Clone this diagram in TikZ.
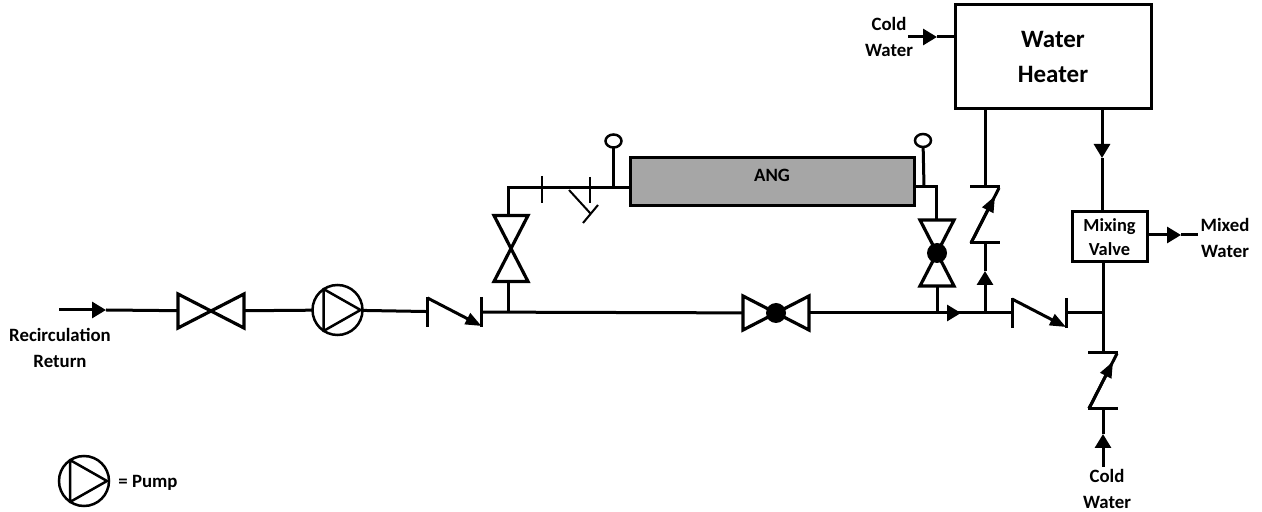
\documentclass[tikz,border=0pt]{standalone}
\usepackage{fontspec}
\setmainfont{Carlito}
\usetikzlibrary{arrows.meta,positioning,shapes.geometric}
\tikzset{
  pipe/.style={line width=1.5pt},
  flow/.style={pipe,-{Triangle[length=7pt,width=8pt]}},
  thinpipe/.style={line width=1pt},
  lbl/.style={font=\bfseries\fontsize{9.4}{13}\selectfont,align=center,inner sep=0},
  box/.style={draw,line width=1.5pt,inner sep=0,outer sep=0,align=center,font=\bfseries},
  gatebox/.style={inner sep=0,outer sep=0,minimum width=34pt,minimum height=17pt},
  checkh/.style={inner sep=0,outer sep=0,minimum width=27.5pt,minimum height=15pt},
  checkv/.style={inner sep=0,outer sep=0,minimum width=15pt,minimum height=28pt},
  pumpnode/.style={draw,circle,line width=1.25pt,inner sep=0,outer sep=0,minimum size=25pt},
  gauge/.style={draw,ellipse,line width=1.25pt,inner sep=0,outer sep=0,minimum width=8pt,minimum height=6.5pt},
  pics/bowtie/.style={code={
    \draw[line width=1.6pt,line join=miter] (-33,-17) -- (33,17) -- (33,-17) -- (-33,17) -- cycle;
  }},
  pics/ballvalve/.style={code={
    \draw[line width=1.6pt,line join=miter] (-33,-17) -- (33,17) -- (33,-17) -- (-33,17) -- cycle;
    \fill (0,0) circle (10);
  }},
  pics/pumpsign/.style={code={
    \draw[line width=1.25pt,line join=round] (-14,-21) -- (-14,21) -- (23,0) -- cycle;
  }},
  pics/checkhsign/.style={code={
    \draw[line width=1.5pt] (-27,-15) -- (-27,15);
    \draw[line width=1.5pt] (27,-15) -- (27,15);
    \draw[line width=1.5pt,-{Triangle[length=8pt,width=6pt]}] (-27,-14) -- (27,14);
  }},
  pics/checkvsign/.style={code={
    \draw[line width=1.5pt] (-15,-28) -- (15,-28);
    \draw[line width=1.5pt] (-15,28) -- (15,28);
    \draw[line width=1.5pt] (-14,28) -- (14,-27);
    \draw[line width=1.5pt,-{Triangle[length=8pt,width=6pt]}] (-14,28) -- (10,-19);
  }},
}

\begin{document}
\begin{tikzpicture}[x=0.5pt,y=-0.5pt]
  \useasboundingbox (0,0) rectangle (1262,512);
  % main line
  \coordinate (start) at (59,310);
  \coordinate (startarrow) at (106,310);
  \node (gatea) [gatebox] at (211,311) {};
  \node (pump) [pumpnode] at (337.5,310) {};
  \node (checka) [checkh] at (454.5,312) {};
  \node (gateb) [gatebox] at (776,313) {};
  \node (checkb) [checkh] at (1039,313) {};
  \coordinate (teea) at (508,313);
  \coordinate (teeb) at (937,313);
  \coordinate (mainarrow) at (961,313);
  \coordinate (teec) at (985,313);
  \coordinate (teed) at (1103,313);
  \draw[flow] (start) -- (startarrow);
  \draw[pipe] (startarrow) -- (gatea);
  \draw[pipe] (gatea) -- (pump);
  \draw[pipe] (pump) -- (checka);
  \draw[pipe] (checka) -- (gateb);
  \draw[pipe] (gateb) -- (mainarrow);
  \draw[flow] (teeb) -- (mainarrow);
  \draw[pipe] (mainarrow) -- (checkb);
  \draw[pipe] (checkb) -- (teed);
  \pic at (gatea) {bowtie};
  \pic at (pump) {pumpsign};
  \pic at (checka) {checkhsign};
  \pic at (gateb) {ballvalve};
  \pic at (checkb) {checkhsign};
  % ANG loop
  \node (ang) [box,fill=black!35,minimum width=142pt,minimum height=24pt,font=\bfseries\fontsize{9.4}{11}\selectfont,text depth=6pt,text height=6pt] at (772,182) {ANG};
  \node (gatec) [gatebox,minimum width=17pt,minimum height=34pt] at (511,248.5) {};
  \node (gated) [gatebox,minimum width=17pt,minimum height=34pt] at (937,253) {};
  \pic[rotate=90] at (gatec) {bowtie};
  \pic[rotate=90] at (gated) {ballvalve};
  \coordinate (cornera) at (508,188);
  \coordinate (teee) at (613.5,188);
  \coordinate (cornerb) at (936,187);
  \coordinate (teef) at (924,187);
  \node (gaugea) [gauge] at (613.5,141) {};
  \node (gaugeb) [gauge] at (923,140.5) {};
  \draw[pipe] (teea) -- (teea |- gatec.south);
  \draw[pipe] (cornera |- gatec.north) -- (cornera) -- (ang.west |- cornera);
  \draw[pipe] (teee) -- (gaugea);
  \draw[pipe] (ang.east |- cornerb) -- (cornerb) -- (cornerb |- gated.north);
  \draw[pipe] (teef) -- (gaugeb);
  \draw[pipe] (gated) -- (teeb);
  \draw[thinpipe] (541.5,176) -- (541.5,203);
  \draw[thinpipe] (590,177) -- (590,203);
  \draw[thinpipe] (569,190) -- (590.5,213.5);
  \draw[thinpipe] (583,223) -- (598,205);
  % water heater
  \node (heater) [box,minimum width=98pt,minimum height=52pt,font=\bfseries\fontsize{12.5}{17.5}\selectfont] at (1053,56.5) {Water\\Heater};
  \node (checkc) [checkv] at (985,215) {};
  \node (mixing) [box,minimum width=37.5pt,minimum height=25pt,font=\bfseries\fontsize{9.2}{12}\selectfont] at (1109.5,237) {Mixing\\Valve};
  \node (checkd) [checkv] at (1103,380.5) {};
  \pic at (checkc) {checkvsign};
  \pic at (checkd) {checkvsign};
  \coordinate (riser) at (985,271);
  \draw[flow] (teec) -- (riser);
  \draw[pipe] (riser) -- (checkc);
  \draw[pipe] (checkc) -- (checkc |- heater.south);
  \coordinate (heaterout) at (1102,108);
  \coordinate (heaterarrow) at (1102,158);
  \draw[flow] (heaterout) -- (heaterarrow);
  \draw[pipe] (heaterarrow) -- (heaterarrow |- mixing.north);
  \draw[pipe] (teed |- mixing.south) -- (checkd);
  % cold water and mixed water
  \node (coldb) [lbl] at (1107,489) {Cold\\Water};
  \coordinate (coldbend) at (1103,467);
  \coordinate (coldbarrow) at (1103,434);
  \draw[flow] (coldbend) -- (coldbarrow);
  \draw[pipe] (coldbarrow) -- (checkd);
  \node (colda) [lbl] at (889,37) {Cold\\Water};
  \coordinate (coldaend) at (908,37);
  \coordinate (coldaarrow) at (937,37);
  \draw[flow] (coldaend) -- (coldaarrow);
  \draw[pipe] (coldaarrow) -- (coldaarrow -| heater.west);
  \node (mixed) [lbl] at (1225,238) {Mixed\\Water};
  \coordinate (mixedend) at (1198,235);
  \coordinate (mixedarrow) at (1181,235);
  \draw[flow] (mixing.east |- mixedarrow) -- (mixedarrow);
  \draw[pipe] (mixedarrow) -- (mixedend);
  % labels
  \node (recirc) [lbl] at (60,347.5) {Recirculation\\Return};
  \node (legend) [pumpnode] at (84,481) {};
  \pic at (legend) {pumpsign};
  \node (legendtext) [lbl] at (148,483) {= Pump};
\end{tikzpicture}
\end{document}
